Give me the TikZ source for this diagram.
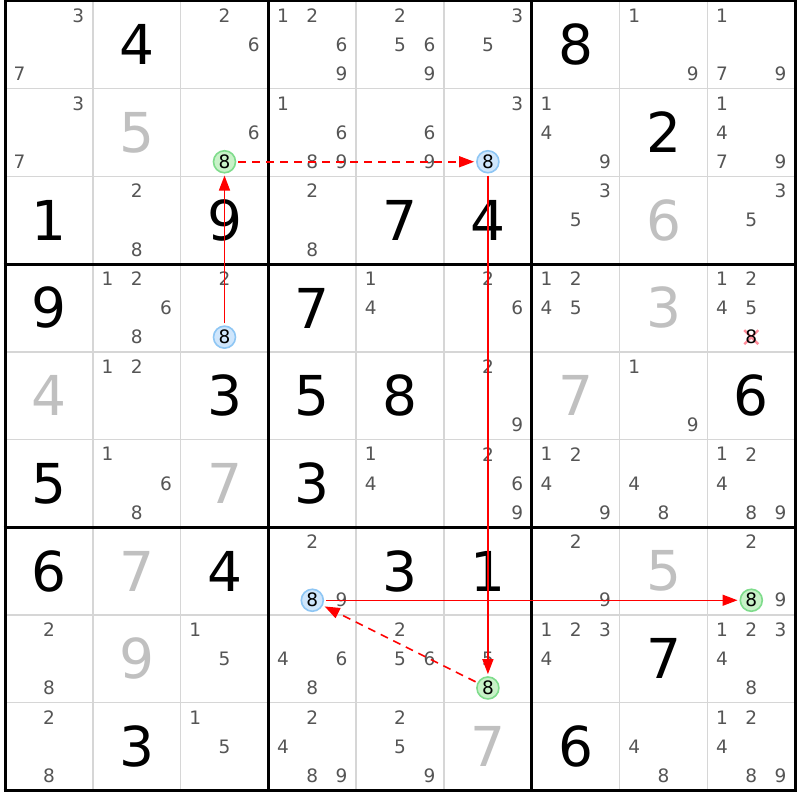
\documentclass[tikz,border=0pt]{standalone}
\usepackage{fontspec}
\setmainfont{DejaVu Sans}
\usetikzlibrary{arrows.meta}
\definecolor{candc}{HTML}{555555}
\definecolor{givc}{HTML}{C0C0C0}
\definecolor{thinc}{HTML}{D6D6D6}
\definecolor{gfill}{HTML}{C8F2C8}
\definecolor{gline}{HTML}{7FDC8C}
\definecolor{bfill}{HTML}{CFE6FC}
\definecolor{bline}{HTML}{8EC6F4}
\definecolor{xcol}{HTML}{FF8C9A}
\definecolor{linkred}{HTML}{FF0000}
\newcommand\CX[1]{(5+(#1-0.5)*87.8)}
\newcommand\CY[1]{(1+(#1-0.5)*87.7)}
\newcommand\Sol[3]{\node[bigd] (s#1#2) at ({\CX{#2}},{\CY{#1}}) {#3};}
\newcommand\Giv[3]{\node[bigd,text=givc] (s#1#2) at ({\CX{#2}},{\CY{#1}}) {#3};}
\newcommand\Cnd[3]{\foreach \d in {#3}{%
  \pgfmathtruncatemacro\cj{mod(\d-1,3)}%
  \pgfmathtruncatemacro\ci{(\d-1)/3}%
  \node[cand] (k#1#2\d) at ({\CX{#2}+(\cj-1)*29.3},{\CY{#1}+(\ci-1)*29.2}) {\d};}}
\newcommand\Hl[3]{\node[#3] (h#1#2) at ({\CX{#2}},{\CY{#1}+29.2}) {8};}
\begin{document}
\begin{tikzpicture}[x=1pt,y=-1pt,
 bigd/.style={font=\fontsize{55}{55}\selectfont, inner sep=0pt},
 cand/.style={font=\fontsize{18.5}{18.5}\selectfont, text=candc, inner sep=0pt},
 hl/.style={circle, draw, line width=1.6pt, minimum size=22pt, inner sep=0pt, font=\fontsize{18.5}{18.5}\selectfont},
 gcirc/.style={hl, draw=gline, fill=gfill},
 bcirc/.style={hl, draw=bline, fill=bfill},
 link/.style={draw=linkred, line width=1.5pt, -{Triangle[length=15pt,width=11pt]}, shorten >=2pt, shorten <=2pt},
 weak/.style={link, line width=1.6pt, dash pattern=on 8pt off 6pt},
 gridthin/.style={thinc, line width=1.5pt},
 gridthick/.style={black, line width=3pt}]
\useasboundingbox (0,0) rectangle (800,800);
\fill[white] (0,0) rectangle (800,800);
% grid
\foreach \i in {1,2,4,5,7,8}{
  \draw[gridthin] ({5+\i*87.8},1) -- ({5+\i*87.8},790);
  \draw[gridthin] (5,{1+\i*87.7}) -- (795,{1+\i*87.7});
}
\foreach \i in {0,3,6,9}{
  \draw[gridthick] ({5+\i*87.8},-0.5) -- ({5+\i*87.8},791.5);
  \draw[gridthick] (3.5,{1+\i*87.7}) -- (796.5,{1+\i*87.7});
}
% row 1
\Cnd{1}{1}{3,7} \Sol{1}{2}{4} \Cnd{1}{3}{2,6} \Cnd{1}{4}{1,2,6,9} \Cnd{1}{5}{2,5,6,9}
\Cnd{1}{6}{3,5} \Sol{1}{7}{8} \Cnd{1}{8}{1,9} \Cnd{1}{9}{1,7,9}
% row 2
\Cnd{2}{1}{3,7} \Giv{2}{2}{5} \Cnd{2}{3}{6} \Cnd{2}{4}{1,6,8,9} \Cnd{2}{5}{6,9}
\Cnd{2}{6}{3} \Cnd{2}{7}{1,4,9} \Sol{2}{8}{2} \Cnd{2}{9}{1,4,7,9}
% row 3
\Sol{3}{1}{1} \Cnd{3}{2}{2,8} \Sol{3}{3}{9} \Cnd{3}{4}{2,8} \Sol{3}{5}{7}
\Sol{3}{6}{4} \Cnd{3}{7}{3,5} \Giv{3}{8}{6} \Cnd{3}{9}{3,5}
% row 4
\Sol{4}{1}{9} \Cnd{4}{2}{1,2,6,8} \Cnd{4}{3}{2} \Sol{4}{4}{7} \Cnd{4}{5}{1,4}
\Cnd{4}{6}{2,6} \Cnd{4}{7}{1,2,4,5} \Giv{4}{8}{3} \Cnd{4}{9}{1,2,4,5}
% row 5
\Giv{5}{1}{4} \Cnd{5}{2}{1,2} \Sol{5}{3}{3} \Sol{5}{4}{5} \Sol{5}{5}{8}
\Cnd{5}{6}{2,9} \Giv{5}{7}{7} \Cnd{5}{8}{1,9} \Sol{5}{9}{6}
% row 6
\Sol{6}{1}{5} \Cnd{6}{2}{1,6,8} \Giv{6}{3}{7} \Sol{6}{4}{3} \Cnd{6}{5}{1,4}
\Cnd{6}{6}{2,6,9} \Cnd{6}{7}{1,2,4,9} \Cnd{6}{8}{4,8} \Cnd{6}{9}{1,2,4,8,9}
% row 7
\Sol{7}{1}{6} \Giv{7}{2}{7} \Sol{7}{3}{4} \Cnd{7}{4}{2,9} \Sol{7}{5}{3}
\Sol{7}{6}{1} \Cnd{7}{7}{2,9} \Giv{7}{8}{5} \Cnd{7}{9}{2,9}
% row 8
\Cnd{8}{1}{2,8} \Giv{8}{2}{9} \Cnd{8}{3}{1,5} \Cnd{8}{4}{4,6,8} \Cnd{8}{5}{2,5,6}
\Cnd{8}{6}{5} \Cnd{8}{7}{1,2,3,4} \Sol{8}{8}{7} \Cnd{8}{9}{1,2,3,4,8}
% row 9
\Cnd{9}{1}{2,8} \Sol{9}{2}{3} \Cnd{9}{3}{1,5} \Cnd{9}{4}{2,4,8,9} \Cnd{9}{5}{2,5,9}
\Giv{9}{6}{7} \Sol{9}{7}{6} \Cnd{9}{8}{4,8} \Cnd{9}{9}{1,2,4,8,9}
% eliminated candidate
\coordinate (x49) at ({\CX{9}},{\CY{4}+29.2});
\draw[xcol, line width=2.4pt] (x49) ++(-7,-7) -- ++(14,14);
\draw[xcol, line width=2.4pt] (x49) ++(7,-7) -- ++(-14,14);
\node[cand, text=black] (k498) at (x49) {8};
% highlighted candidates
\Hl{2}{3}{gcirc} \Hl{2}{6}{bcirc} \Hl{4}{3}{bcirc}
\Hl{7}{4}{bcirc} \Hl{7}{9}{gcirc} \Hl{8}{6}{gcirc}
% links
\draw[link] (h43.north) -- (h23.south);
\draw[weak] (h23.east) -- (h26.west);
\draw[link] (h26.south) -- (h86.north);
\draw[link] (h74.east) -- (h79.west);
\draw[weak] (h86) -- (h74);
\end{tikzpicture}
\end{document}
